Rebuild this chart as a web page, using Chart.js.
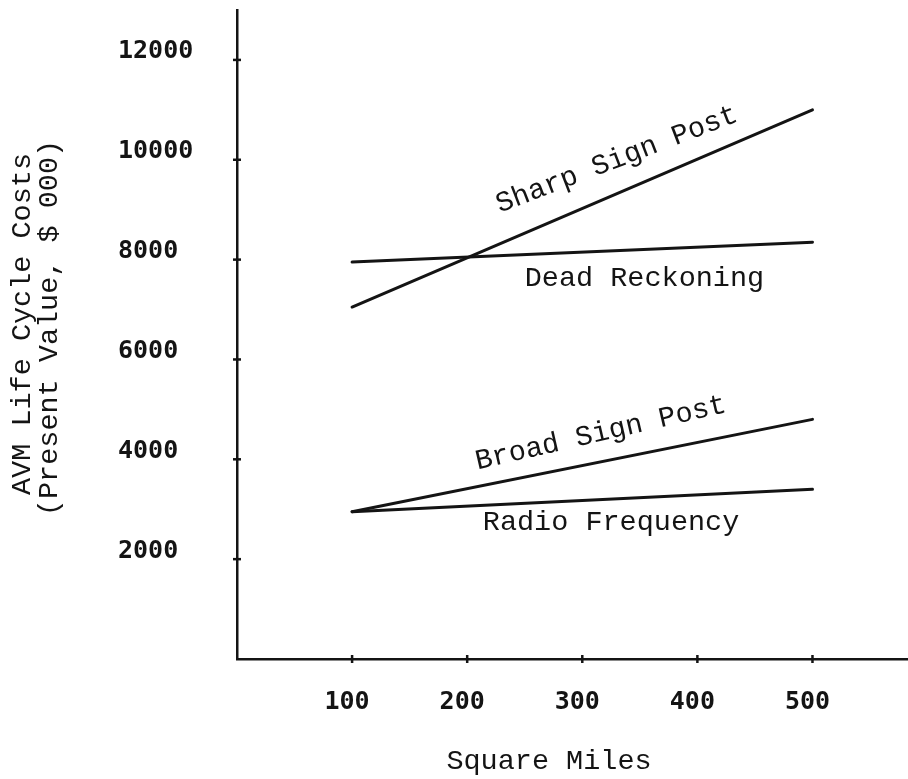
<!DOCTYPE html>
<html>
<head>
<meta charset="utf-8">
<script src="https://cdn.jsdelivr.net/npm/chart.js@4/dist/chart.umd.min.js"></script>
<style>
  html, body { margin: 0; padding: 0; background: #ffffff; }
  #wrap { width: 908px; height: 779px; }
</style>
</head>
<body>
<div id="wrap"><canvas id="c" width="908" height="779"></canvas></div>
<script>
// Service area (square miles) and life cycle cost per AVM technique ($ 000)
const squareMiles    = [100, 500];
const sharpSignPost  = [7050, 11000];
const deadReckoning  = [7950, 8350];
const broadSignPost  = [2950, 4800];
const radioFrequency = [2950, 3400];

const xTickValues = [100, 200, 300, 400, 500];
const yTickValues = [2000, 4000, 6000, 8000, 10000, 12000];

const seriesNames = ['Sharp Sign Post', 'Dead Reckoning', 'Broad Sign Post', 'Radio Frequency'];
const yAxisTitle = ['AVM Life Cycle Costs', '(Present Value, $ 000)'];
const xAxisTitle = 'Square Miles';

// where each curve's name is written (data units) and its tilt in degrees
const curveLabelPlacement = [
  { x: 330, y: 10000, angle: -21 },
  { x: 354, y: 7620,  angle: 0 },
  { x: 316, y: 4520,  angle: -13 },
  { x: 325, y: 2740,  angle: 0 }
];

const INK = '#141414';
const TYPE_FONT = '28.5px "Liberation Mono", "DejaVu Sans Mono", monospace';

const toPoints = (vals) => squareMiles.map((m, i) => ({ x: m, y: vals[i] }));
const seriesValues = [sharpSignPost, deadReckoning, broadSignPost, radioFrequency];

const datasets = seriesValues.map((vals, i) => ({
  label: seriesNames[i],
  data: toPoints(vals),
  borderColor: INK,
  borderWidth: 3,
  borderCapStyle: 'round',
  pointRadius: 0,
  tension: 0,
  fill: false
}));

// small cross marks on both axes plus the captions
const annotations = {
  id: 'annotations',
  afterDraw(chart) {
    const { ctx, chartArea, scales: { x, y } } = chart;
    ctx.save();
    ctx.strokeStyle = INK;
    ctx.lineWidth = 2.5;
    yTickValues.forEach(v => {
      const py = y.getPixelForValue(v);
      ctx.beginPath();
      ctx.moveTo(chartArea.left - 4, py);
      ctx.lineTo(chartArea.left + 4, py);
      ctx.stroke();
    });
    xTickValues.forEach(v => {
      const px = x.getPixelForValue(v);
      ctx.beginPath();
      ctx.moveTo(px, chartArea.bottom - 4);
      ctx.lineTo(px, chartArea.bottom + 4);
      ctx.stroke();
    });

    ctx.fillStyle = INK;
    ctx.font = TYPE_FONT;
    ctx.textAlign = 'center';
    ctx.textBaseline = 'middle';

    curveLabelPlacement.forEach((p, i) => {
      ctx.save();
      ctx.translate(x.getPixelForValue(p.x), y.getPixelForValue(p.y));
      ctx.rotate(p.angle * Math.PI / 180);
      ctx.fillText(seriesNames[i], 0, 0);
      ctx.restore();
    });

    // vertical axis title, two rotated lines
    [[22, 324], [49, 328]].forEach(([tx, ty], i) => {
      ctx.save();
      ctx.translate(tx, ty);
      ctx.rotate(-Math.PI / 2);
      ctx.fillText(yAxisTitle[i], 0, 0);
      ctx.restore();
    });

    ctx.fillText(xAxisTitle, 549, 761);
    ctx.restore();
  }
};

new Chart(document.getElementById('c'), {
  type: 'line',
  data: { datasets },
  options: {
    responsive: false,
    devicePixelRatio: 1,
    animation: false,
    layout: { padding: { left: 118, top: 10, right: 0, bottom: 0 } },
    plugins: {
      legend: { display: false },
      tooltip: { enabled: false },
      title: { display: false }
    },
    scales: {
      x: {
        type: 'linear',
        min: 0,
        max: 583,
        afterBuildTicks: (s) => { s.ticks = xTickValues.map(v => ({ value: v })); },
        afterFit: (s) => { s.height = 120; s.paddingLeft = 0; s.paddingRight = 0; },
        grid: { display: false },
        border: { display: true, color: INK, width: 2.5 },
        ticks: {
          color: INK,
          padding: 20,
          labelOffset: -5,
          maxRotation: 0,
          autoSkip: false,
          font: { family: '"DejaVu Sans Mono", monospace', size: 25, weight: 'bold' },
          callback: (v) => String(v)
        },
        title: { display: false }
      },
      y: {
        type: 'linear',
        min: 0,
        max: 13000,
        afterBuildTicks: (s) => { s.ticks = yTickValues.map(v => ({ value: v })); },
        afterFit: (s) => { s.width = 119; s.paddingTop = 0; s.paddingBottom = 0; },
        grid: { display: false },
        border: { display: true, color: INK, width: 2.5 },
        ticks: {
          color: INK,
          crossAlign: 'far',
          labelOffset: -8,
          autoSkip: false,
          font: { family: '"DejaVu Sans Mono", monospace', size: 25, weight: 'bold' },
          callback: (v) => String(v)
        },
        title: { display: false }
      }
    }
  },
  plugins: [annotations]
});
</script>
</body>
</html>
